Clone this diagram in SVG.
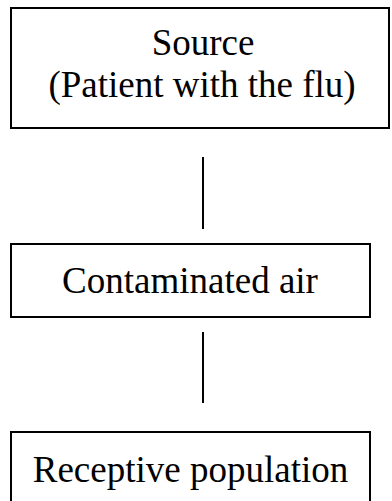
<svg xmlns="http://www.w3.org/2000/svg" width="392" height="501" viewBox="0 0 392 501">
  <style>
    .box { fill: #ffffff; stroke: #000000; stroke-width: 2; }
    .link { stroke: #000000; stroke-width: 2; fill: none; }
    .label { font-family: 'Liberation Serif', 'Times New Roman', Times, serif; font-size: 37px; fill: #000000; text-anchor: middle; }
  </style>
  <rect width="392" height="501" fill="#ffffff"/>
  <g id="connectors">
    <line class="link" x1="203" y1="157" x2="203" y2="229"/>
    <line class="link" x1="203" y1="332" x2="203" y2="403"/>
  </g>
  <g id="source">
    <rect class="box" x="11" y="8" width="378" height="120"/>
    <text class="label" font-family="Liberation Serif, serif" x="203" y="55">Source</text>
    <text class="label" font-family="Liberation Serif, serif" x="202" y="97">(Patient with the flu)</text>
  </g>
  <g id="contaminated-air">
    <rect class="box" x="11" y="244" width="359" height="73"/>
    <text class="label" font-family="Liberation Serif, serif" x="190" y="293">Contaminated air</text>
  </g>
  <g id="receptive-population">
    <rect class="box" x="11" y="432" width="359" height="80"/>
    <text class="label" font-family="Liberation Serif, serif" x="190.5" y="482">Receptive population</text>
  </g>
</svg>
